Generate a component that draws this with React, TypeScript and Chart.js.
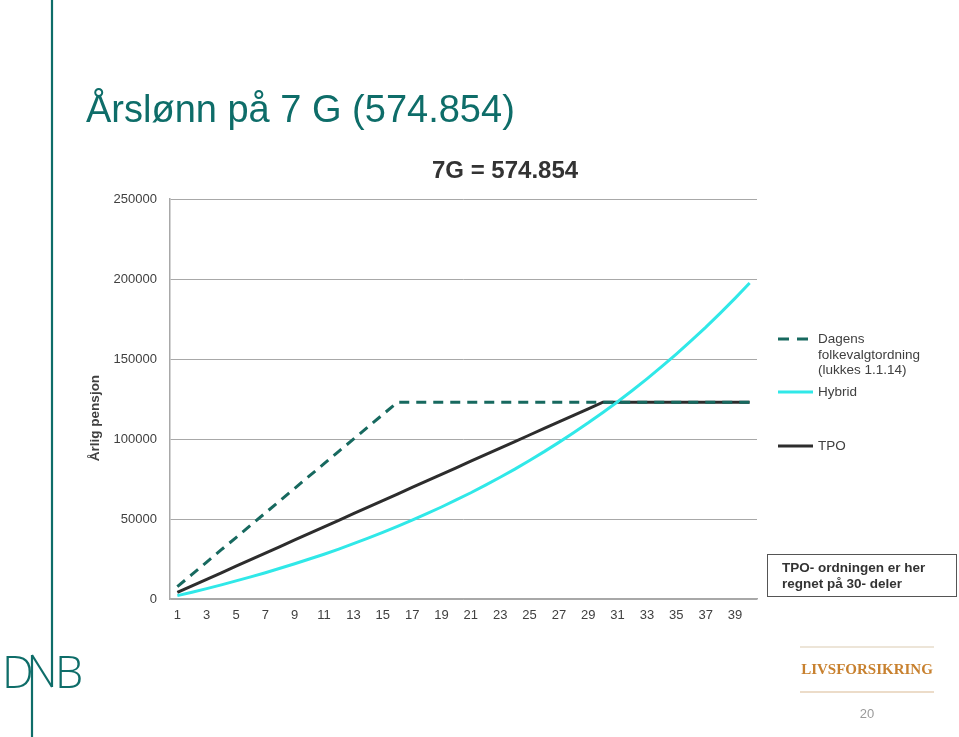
import React, { useEffect, useRef } from "react";
import { Chart, registerables } from "chart.js";

Chart.register(...registerables);

const years: string[] = [
  "1", "2", "3", "4", "5", "6", "7", "8", "9", "10",
  "11", "12", "13", "14", "15", "16", "17", "18", "19", "20",
  "21", "22", "23", "24", "25", "26", "27", "28", "29", "30",
  "31", "32", "33", "34", "35", "36", "37", "38", "39", "40",
];

const dagens: number[] = [
  7700, 15400, 23100, 30800, 38400, 46100, 53800, 61500, 69200, 76900,
  84600, 92300, 99900, 107600, 115300, 123000, 123000, 123000, 123000, 123000,
  123000, 123000, 123000, 123000, 123000, 123000, 123000, 123000, 123000, 123000,
  123000, 123000, 123000, 123000, 123000, 123000, 123000, 123000, 123000, 123000,
];

const hybrid: number[] = [
  2100, 4200, 6500, 8800, 11300, 13800, 16400, 19200, 22000, 25000,
  28000, 31200, 34600, 38000, 41600, 45400, 49300, 53300, 57500, 61900,
  66400, 71200, 76100, 81200, 86600, 92100, 97900, 103900, 110100, 116600,
  123300, 130300, 137600, 145200, 153100, 161300, 169800, 178700, 187900, 197500,
];

const tpo: number[] = [
  4100, 8200, 12300, 16400, 20500, 24600, 28700, 32800, 36900, 41000,
  45100, 49200, 53300, 57400, 61500, 65600, 69700, 73800, 77900, 82000,
  86100, 90200, 94300, 98400, 102500, 106600, 110700, 114800, 118900, 123000,
  123000, 123000, 123000, 123000, 123000, 123000, 123000, 123000, 123000, 123000,
];

const yTicks: number[] = [0, 50000, 100000, 150000, 200000, 250000];

const TEAL = "#0e6d69";
const DASH_COLOR = "#17695f";
const CYAN = "#30e8e8";
const DARK = "#2d2d2d";
const GRID = "#a8a8a8";
const TEXT = "#404040";
const FONT = "'Liberation Sans', Arial, sans-serif";

function ChartCanvas() {
  const ref = useRef<HTMLCanvasElement | null>(null);
  useEffect(() => {
    if (!ref.current) return;
    const chart = new Chart(ref.current, {
      type: "line",
      data: {
        labels: years,
        datasets: [
          {
            label: "Dagens folkevalgtordning (lukkes 1.1.14)",
            data: dagens,
            borderColor: DASH_COLOR,
            borderWidth: 3,
            borderDash: [10, 7],
            pointRadius: 0,
            tension: 0,
            fill: false,
          },
          {
            label: "Hybrid",
            data: hybrid,
            borderColor: CYAN,
            borderWidth: 3,
            pointRadius: 0,
            tension: 0,
            fill: false,
          },
          {
            label: "TPO",
            data: tpo,
            borderColor: DARK,
            borderWidth: 3,
            pointRadius: 0,
            tension: 0,
            fill: false,
          },
        ],
      },
      options: {
        responsive: false,
        animation: false,
        layout: { padding: { left: 100, right: 202, top: 199, bottom: 108 } },
        plugins: { legend: { display: false }, tooltip: { enabled: false }, title: { display: false } },
        scales: {
          x: {
            type: "category",
            offset: true,
            grid: { display: false, drawTicks: false },
            border: { display: true, color: GRID, width: 1.5 },
            afterFit: (s: any) => { s.height = 30; },
            ticks: {
              autoSkip: false,
              maxRotation: 0,
              minRotation: 0,
              padding: 9,
              color: TEXT,
              font: { family: FONT, size: 13 },
              callback: function (this: any, val: any, idx: number) {
                return idx % 2 === 0 ? this.getLabelForValue(val) : "";
              },
            },
          },
          y: {
            min: 0,
            max: 250000,
            afterFit: (s: any) => { s.width = 70; },
            afterBuildTicks: (s: any) => { s.ticks = yTicks.map((v) => ({ value: v })); },
            grid: { color: GRID, lineWidth: 1, drawTicks: false },
            border: { display: true, color: GRID, width: 1.5 },
            ticks: {
              padding: 13,
              color: TEXT,
              font: { family: FONT, size: 13 },
              callback: (v: any) => String(v),
            },
          },
        },
      },
    } as any);
    return () => chart.destroy();
  }, []);
  return (
    <canvas
      ref={ref}
      width={959}
      height={737}
      style={{ position: "absolute", left: 0, top: 0, width: 959, height: 737 }}
    />
  );
}

const abs = (s: React.CSSProperties): React.CSSProperties => ({ position: "absolute", whiteSpace: "nowrap", ...s });

export default function App() {
  return (
    <div style={{ position: "absolute", left: 0, top: 0, width: 959, height: 737, background: "#fff", overflow: "hidden", fontFamily: FONT }}>
      <ChartCanvas />
      {/* brand line + logo */}
      <svg width={959} height={737} style={{ position: "absolute", left: 0, top: 0, pointerEvents: "none" }}>
        <line x1={52} y1={0} x2={52} y2={687} stroke={TEAL} strokeWidth={2.2} />
        <line x1={52} y1={687} x2={32} y2={655} stroke={TEAL} strokeWidth={2.2} />
        <line x1={32} y1={655} x2={32} y2={737} stroke={TEAL} strokeWidth={2.2} />
        <line x1={800} y1={647} x2={934} y2={647} stroke="#dccbb2" strokeWidth={1.2} />
        <line x1={800} y1={692} x2={934} y2={692} stroke="#d9b994" strokeWidth={1.2} />
      </svg>
      <div style={abs({ left: 2, top: 648, fontSize: 45, lineHeight: "45px", color: TEAL, fontFamily: "'Open Sans', sans-serif", fontWeight: 300 })}>D</div>
      <div style={abs({ left: 55, top: 648, fontSize: 45, lineHeight: "45px", color: TEAL, fontFamily: "'Open Sans', sans-serif", fontWeight: 300 })}>B</div>

      <div style={abs({ left: 86, top: 90, fontSize: 38, lineHeight: "38px", color: TEAL })}>Årslønn på 7 G (574.854)</div>
      <div style={abs({ left: 432, top: 158, fontSize: 24, lineHeight: "24px", color: "#333", fontWeight: "bold" })}>7G = 574.854</div>

      <div style={abs({ left: 95, top: 418, fontSize: 13.5, lineHeight: "14px", color: TEXT, fontWeight: "bold", transform: "translate(-50%, -50%) rotate(-90deg)" })}>Årlig pensjon</div>

      {/* legend */}
      <svg width={60} height={130} style={{ position: "absolute", left: 770, top: 330 }}>
        <line x1={8} y1={9} x2={43} y2={9} stroke={DASH_COLOR} strokeWidth={3} strokeDasharray="11 8" />
        <line x1={8} y1={62} x2={43} y2={62} stroke={CYAN} strokeWidth={3} />
        <line x1={8} y1={116} x2={43} y2={116} stroke={DARK} strokeWidth={3} />
      </svg>
      <div style={abs({ left: 818, top: 331, fontSize: 13.5, lineHeight: "15.5px", color: TEXT })}>
        Dagens<br />folkevalgtordning<br />(lukkes 1.1.14)
      </div>
      <div style={abs({ left: 818, top: 384, fontSize: 13.5, lineHeight: "15.5px", color: TEXT })}>Hybrid</div>
      <div style={abs({ left: 818, top: 438, fontSize: 13.5, lineHeight: "15.5px", color: TEXT })}>TPO</div>

      {/* note box */}
      <div style={{ position: "absolute", left: 767, top: 554, width: 188, height: 41, border: "1.5px solid #555", boxSizing: "content-box" }} />
      <div style={abs({ left: 782, top: 560, fontSize: 13.5, lineHeight: "16px", color: "#333", fontWeight: "bold" })}>
        TPO- ordningen er her<br />regnet på 30- deler
      </div>

      <div style={abs({ left: 800, top: 660, width: 134, textAlign: "center", fontSize: 15, lineHeight: "18px", color: "#c8812f", fontWeight: "bold", fontFamily: "'Liberation Serif', serif" })}>LIVSFORSIKRING</div>
      <div style={abs({ left: 800, top: 706, width: 134, textAlign: "center", fontSize: 13, lineHeight: "16px", color: "#9a9a9a" })}>20</div>
    </div>
  );
}
